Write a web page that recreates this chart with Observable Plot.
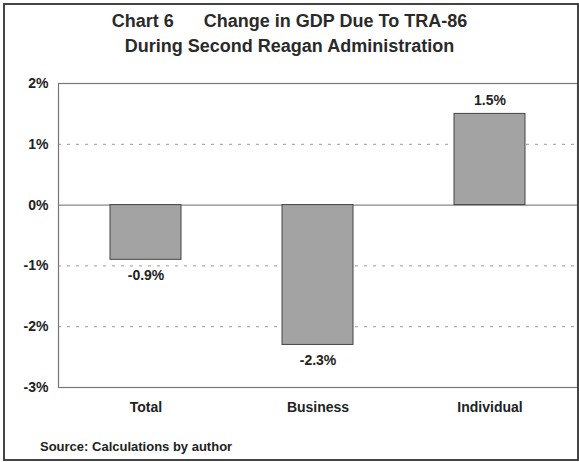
<!DOCTYPE html>
<html>
<head>
<meta charset="utf-8">
<script src="https://cdn.jsdelivr.net/npm/d3@7"></script>
<script src="https://cdn.jsdelivr.net/npm/@observablehq/plot@0.6"></script>
<style>
  html, body { margin: 0; padding: 0; background: #fff; }
  #wrap { position: relative; width: 579px; height: 462px; font-family: "Liberation Sans", Arial, Helvetica, sans-serif; color: #222; }
  #border { position: absolute; left: 3px; top: 3px; width: 572px; height: 454px; border: 2px solid #444; }
  #title { position: absolute; left: 0; top: 9px; width: 579px; text-align: center; font-weight: bold; font-size: 18px; line-height: 25px; color: #2a2a2a; }
  #source { position: absolute; left: 40px; top: 439px; font-weight: bold; font-size: 13px; color: #222; }
  #chart { position: absolute; left: 0; top: 0; }
</style>
</head>
<body>
<div id="wrap">
  <div id="chart"></div>
  <div id="border"></div>
  <div id="title">Chart 6&nbsp;&nbsp;&nbsp;&nbsp;&nbsp;&nbsp;Change in GDP Due To TRA-86<br>During Second Reagan Administration</div>
  <div id="source">Source: Calculations by author</div>
</div>
<script>
const categories = ["Total", "Business", "Individual"];
const values = [-0.9, -2.3, 1.5];
const valueLabels = ["-0.9%", "-2.3%", "1.5%"];
const yTicks = [-3, -2, -1, 0, 1, 2];
const dashedGrid = [-2, -1, 1];

const data = categories.map((c, i) => ({cat: c, value: values[i], label: valueLabels[i]}));

const chart = Plot.plot({
  width: 579,
  height: 462,
  marginTop: 83,
  marginBottom: 75,
  marginLeft: 58,
  marginRight: 2,
  style: {fontFamily: '"Liberation Sans", Arial, sans-serif', fontWeight: "bold", fontSize: "14px", background: "transparent", color: "#222"},
  x: {type: "band", domain: categories, paddingInner: 0.59, paddingOuter: 0.3, label: null},
  y: {domain: [-3, 2], label: null},
  marks: [
    Plot.ruleY(dashedGrid, {stroke: "#999", strokeDasharray: "3,6", strokeWidth: 1}),
    Plot.ruleY([0], {stroke: "#888", strokeWidth: 1.2}),
    Plot.frame({stroke: "#777", strokeWidth: 1.2}),
    Plot.barY(data, {x: "cat", y: "value", fill: "#a3a3a3", stroke: "#444", strokeWidth: 1}),
    Plot.text(data.filter(d => d.value < 0), {x: "cat", y: "value", text: "label", dy: 16, fontSize: 14, fontWeight: "bold", fill: "#222"}),
    Plot.text(data.filter(d => d.value >= 0), {x: "cat", y: "value", text: "label", dy: -13, fontSize: 14, fontWeight: "bold", fill: "#222"}),
    Plot.axisY({ticks: yTicks, tickFormat: d => d + "%", tickSize: 0, tickPadding: 10, fontSize: 14, fontWeight: "bold"}),
    Plot.axisX({tickSize: 0, tickPadding: 15, fontSize: 14, fontWeight: "bold"})
  ]
});
document.getElementById("chart").appendChild(chart);
</script>
</body>
</html>
